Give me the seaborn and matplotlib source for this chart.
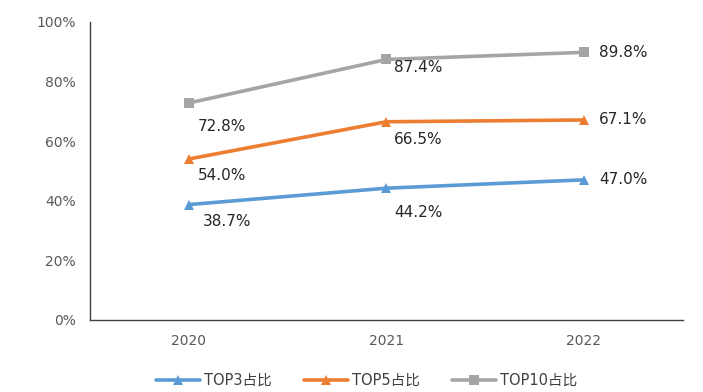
import matplotlib
matplotlib.use("Agg")
import matplotlib.pyplot as plt
import pandas as pd
import seaborn as sns

years = ["2020", "2021", "2022"]
top3 = [38.7, 44.2, 47.0]
top5 = [54.0, 66.5, 67.1]
top10 = [72.8, 87.4, 89.8]
series_names = ["TOP3占比", "TOP5占比", "TOP10占比"]
y_ticks = [0, 20, 40, 60, 80, 100]

colors = ["#5B9BD5", "#ED7D31", "#A5A5A5"]
markers = ["^", "^", "s"]

sns.set_style("white")
plt.rcParams["font.family"] = ["DejaVu Sans", "Noto Sans CJK SC"]

df = pd.DataFrame({
    "year": years * 3,
    "value": top3 + top5 + top10,
    "series": [series_names[0]] * 3 + [series_names[1]] * 3 + [series_names[2]] * 3,
})

fig = plt.figure(figsize=(7.03, 3.92), dpi=100)
ax = fig.add_axes([0.128, 0.184, 0.843, 0.760])

sns.lineplot(data=df, x="year", y="value", hue="series", style="series",
             palette=colors, markers=markers, dashes=False, linewidth=2.6,
             markersize=7, markeredgewidth=0, ax=ax, legend=True)

# data label offsets in pixels (dx, dy) per series per year
offsets = [
    [(38, -17), (32, -24), (15, 0)],
    [(33, -17), (32, -18), (15, 0)],
    [(33, -24), (32, -8), (15, 0)],
]
vals = [top3, top5, top10]
for si, series in enumerate(vals):
    for xi, v in enumerate(series):
        dx, dy = offsets[si][xi]
        ha = "left" if xi == 2 else "center"
        ax.annotate(f"{v:.1f}%", xy=(xi, v), xytext=(dx, dy),
                    textcoords="offset pixels", ha=ha, va="center",
                    fontsize=11, color="#262626")

ax.set_xlim(-0.5, 2.5)
ax.set_ylim(0, 100)
ax.set_yticks(y_ticks)
ax.set_yticklabels([f"{t}%" for t in y_ticks])
ax.set_xlabel("")
ax.set_ylabel("")
ax.tick_params(axis="y", direction="out", length=4, width=1, color="#404040",
               labelsize=10, labelcolor="#595959", pad=6)
ax.tick_params(axis="x", length=0, labelsize=10, labelcolor="#595959", pad=10)
for side in ["top", "right"]:
    ax.spines[side].set_visible(False)
for side in ["left", "bottom"]:
    ax.spines[side].set_color("#404040")
    ax.spines[side].set_linewidth(1)

handles, labels = ax.get_legend_handles_labels()
ax.legend_.remove()
fig.legend(handles, labels, loc="center", bbox_to_anchor=(0.522, 0.03), ncol=3,
           frameon=False, fontsize=10.5, handlelength=3.0, columnspacing=2.2,
           handletextpad=0.3, labelcolor="#404040")

fig.savefig("out.png", dpi=100)
